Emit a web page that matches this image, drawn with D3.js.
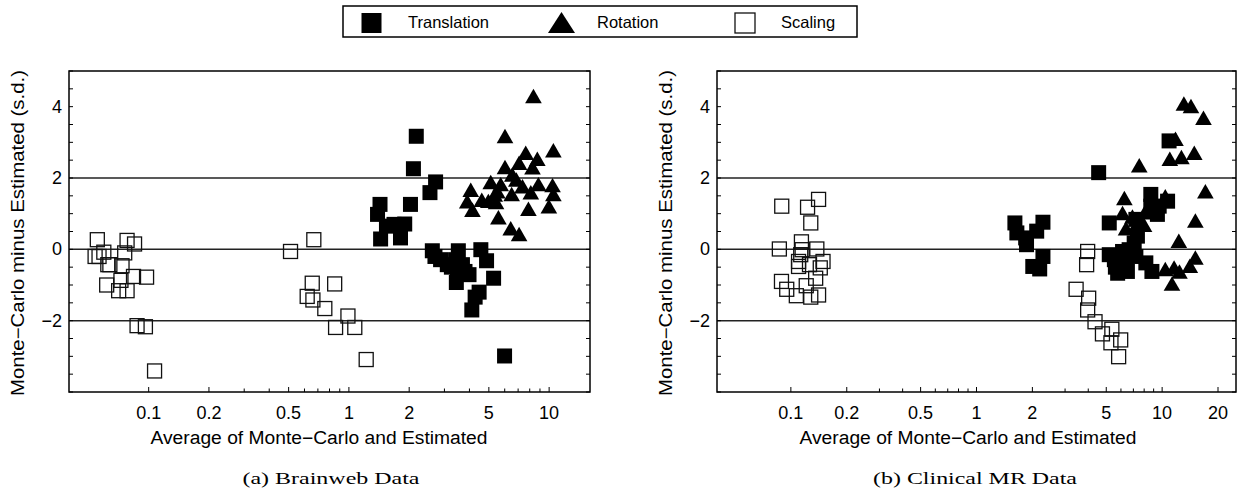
<!DOCTYPE html>
<html><head><meta charset="utf-8">
<script src="https://cdn.jsdelivr.net/npm/d3@7"></script>
<style>
html,body{margin:0;padding:0;background:#fff;}
svg{display:block;font-family:"Liberation Sans",Arial,sans-serif;}
</style></head>
<body>
<svg id="chart" width="1247" height="488"></svg>
<script>
// ---------- data ----------
const seriesNames = ["Translation", "Rotation", "Scaling"];
const yTickValues = [-2, 0, 2, 4];
const yTickLabels = ["\u22122", "0", "2", "4"];
const refLines = [-2, 0, 2];
const xTickLabelsA = [0.1, 0.2, 0.5, 1, 2, 5, 10];
const xTickLabelsB = [0.1, 0.2, 0.5, 1, 2, 5, 10, 20];
const captions = ["(a) Brainweb Data", "(b) Clinical MR Data"];
const xTitle = "Average of Monte\u2212Carlo and Estimated";
const yTitle = "Monte\u2212Carlo minus Estimated  (s.d.)";

// Panel (a) Brainweb: [average, difference]
const brainTranslation = [
  [2.17,3.17],[2.10,2.26],[2.71,1.89],[2.54,1.59],[1.43,1.26],[2.03,1.26],[1.39,0.98],
  [1.68,0.70],[1.90,0.71],[1.54,0.65],[1.44,0.29],[1.81,0.32],
  [2.61,-0.04],[2.69,-0.20],[2.87,-0.29],[3.52,-0.04],[3.10,-0.43],[3.41,-0.29],
  [3.48,-0.57],[3.69,-0.43],[3.98,-0.71],[3.44,-0.93],[4.56,-0.01],[4.87,-0.32],
  [5.28,-0.81],[4.47,-1.20],[4.27,-1.34],[4.11,-1.70],[5.99,-2.99],[3.25,-0.50],[3.80,-0.62]
];
const brainRotation = [
  [8.35,4.26],[6.02,3.14],[10.5,2.74],[7.64,2.67],[8.73,2.50],[7.08,2.39],[6.02,2.27],
  [8.26,2.26],[6.55,2.06],[5.11,1.85],[5.73,1.79],[6.86,1.92],[7.36,1.73],[8.84,1.79],
  [10.4,1.76],[4.06,1.63],[5.51,1.59],[8.10,1.56],[6.50,1.51],[10.5,1.51],[4.61,1.35],
  [4.97,1.32],[5.43,1.29],[3.90,1.31],[4.14,1.07],[7.88,1.10],[9.97,1.17],[5.58,0.86],
  [6.43,0.55],[7.08,0.39],[5.35,1.50]
];
const brainScaling = [
  [0.0554,0.27],[0.054,-0.20],[0.0565,-0.20],[0.0597,-0.08],[0.064,-0.43],[0.0625,-0.43],
  [0.078,0.25],[0.085,0.15],[0.0759,-0.10],[0.0736,-0.46],[0.084,-0.76],[0.0976,-0.78],
  [0.0617,-1.00],[0.0727,-0.87],[0.0708,-1.16],[0.078,-1.16],[0.0875,-2.14],[0.0963,-2.17],
  [0.107,-3.41],[0.511,-0.06],[0.668,0.27],[0.656,-0.95],[0.849,-0.97],[0.619,-1.32],
  [0.661,-1.42],[0.758,-1.66],[0.989,-1.87],[0.858,-2.19],[1.07,-2.19],[1.22,-3.09]
];

// Panel (b) Clinical MR
const clinTranslation = [
  [4.55,2.15],[10.9,3.04],[8.69,1.54],[10.7,1.35],[9.64,1.21],[8.69,1.21],[9.43,0.98],
  [7.22,0.84],[5.19,0.74],[1.61,0.74],[1.65,0.46],[2.28,0.76],[2.11,0.51],[1.84,0.32],
  [1.86,0.13],[2.28,-0.20],[2.01,-0.48],[2.19,-0.55],[7.07,0.18],[6.64,-0.01],[5.19,-0.15],
  [6.12,-0.06],[5.53,-0.29],[6.39,-0.34],[7.22,-0.20],[5.76,-0.67],[6.50,-0.62],[8.17,-0.38],
  [8.81,-0.62],[7.36,0.37],[5.60,-0.50]
];
const clinRotation = [
  [13.1,4.05],[14.3,3.98],[16.7,3.65],[11.8,3.06],[11.0,2.50],[12.7,2.55],[14.9,2.67],
  [7.53,2.32],[17.1,1.59],[6.26,1.40],[10.4,1.45],[6.12,0.98],[8.51,1.21],[15.1,0.77],
  [6.39,0.55],[7.36,0.70],[7.99,0.65],[6.92,0.88],[12.3,0.20],[15.1,-0.27],[14.1,-0.50],
  [10.4,-0.59],[11.6,-0.55],[12.4,-0.66],[11.3,-1.00],[8.2,1.00]
];
const clinScaling = [
  [0.0893,1.21],[0.123,1.18],[0.141,1.40],[0.128,0.74],[0.0867,0.01],[0.114,0.21],
  [0.138,0.01],[0.115,-0.01],[0.113,-0.15],[0.110,-0.34],[0.110,-0.48],[0.149,-0.34],
  [0.144,-0.52],[0.126,-0.43],[0.136,-0.81],[0.089,-0.90],[0.095,-1.12],[0.121,-1.02],
  [0.107,-1.30],[0.128,-1.34],[0.141,-1.28],
  [3.97,-0.06],[3.92,-0.43],[3.44,-1.12],[4.02,-1.37],[3.97,-1.70],[4.35,-2.03],
  [4.77,-2.37],[5.36,-2.24],[5.30,-2.62],[5.98,-2.54],[5.83,-3.01]
];

// ---------- drawing ----------
const svg = d3.select("#chart");
const ink = "#000";

function drawPanel(cfg) {
  const g = svg.append("g");
  const x = d3.scaleLog().domain(cfg.xDomain).range([cfg.left, cfg.right]);
  const y = d3.scaleLinear().domain([-4, 5]).range([cfg.bottom, cfg.top]);

  // reference lines
  g.selectAll("line.ref").data(refLines).enter().append("line")
    .attr("x1", cfg.left).attr("x2", cfg.right)
    .attr("y1", d => y(d)).attr("y2", d => y(d))
    .attr("stroke", "#222").attr("stroke-width", 1.5);

  // markers: scaling (open squares)
  const sq = 14, fsq = 15;
  g.selectAll("rect.sc").data(cfg.scaling).enter().append("rect")
    .attr("x", d => x(d[0]) - sq / 2).attr("y", d => y(d[1]) - sq / 2)
    .attr("width", sq).attr("height", sq)
    .attr("fill", "none").attr("stroke", "#111").attr("stroke-width", 1.3);
  // translation (filled squares)
  g.selectAll("rect.tr").data(cfg.translation).enter().append("rect")
    .attr("x", d => x(d[0]) - fsq / 2).attr("y", d => y(d[1]) - fsq / 2)
    .attr("width", fsq).attr("height", fsq).attr("fill", ink);
  // rotation (triangles)
  const tri = d3.symbol().type(d3.symbolTriangle).size(120);
  g.selectAll("path.ro").data(cfg.rotation).enter().append("path")
    .attr("d", tri)
    .attr("transform", d => `translate(${x(d[0])},${y(d[1]) + 1})`)
    .attr("fill", ink);

  // frame
  g.append("rect").attr("x", cfg.left).attr("y", cfg.top)
    .attr("width", cfg.right - cfg.left).attr("height", cfg.bottom - cfg.top)
    .attr("fill", "none").attr("stroke", ink).attr("stroke-width", 1.5);

  // y ticks inside, both sides
  const yMinor = d3.range(-4, 5.01, 0.5);
  yMinor.forEach(v => {
    g.append("line").attr("x1", cfg.left).attr("x2", cfg.left + 4)
      .attr("y1", y(v)).attr("y2", y(v)).attr("stroke", ink).attr("stroke-width", 1);
    g.append("line").attr("x1", cfg.right).attr("x2", cfg.right - 4)
      .attr("y1", y(v)).attr("y2", y(v)).attr("stroke", ink).attr("stroke-width", 1);
  });
  g.selectAll("text.yt").data(yTickValues).enter().append("text")
    .attr("x", cfg.left - 7).attr("y", d => y(d) + 6)
    .attr("text-anchor", "end").attr("font-size", 18).attr("fill", ink)
    .text((d, i) => yTickLabels[i]);

  // x ticks inside
  const xMinor = [];
  [0.1, 1].forEach(dec => { for (let k = 1; k <= 9; k++) xMinor.push(+(dec * k).toFixed(3)); });
  xMinor.push(10, 20);
  const xd = cfg.xDomain;
  xMinor.filter(v => v >= xd[0] && v <= xd[1]).forEach(v => {
    const big = cfg.xLabels.includes(v);
    g.append("line").attr("x1", x(v)).attr("x2", x(v))
      .attr("y1", cfg.bottom).attr("y2", cfg.bottom - (big ? 5 : 3.5))
      .attr("stroke", ink).attr("stroke-width", 1);
  });
  g.selectAll("text.xt").data(cfg.xLabels).enter().append("text")
    .attr("x", d => x(d)).attr("y", cfg.bottom + 27)
    .attr("text-anchor", "middle").attr("font-size", 18).attr("fill", ink)
    .text(d => String(d));

  // axis titles
  g.append("text").attr("x", cfg.xTitleX).attr("y", cfg.bottom + 52)
    .attr("text-anchor", "middle").attr("font-size", 18).attr("fill", ink)
    .attr("textLength", 337).attr("lengthAdjust", "spacingAndGlyphs")
    .text(xTitle);
  g.append("text")
    .attr("transform", `translate(${cfg.yTitleX},${cfg.yTitleY}) rotate(-90)`)
    .attr("text-anchor", "middle").attr("font-size", 18).attr("fill", ink)
    .attr("textLength", 326).attr("lengthAdjust", "spacingAndGlyphs")
    .text(yTitle);

  // caption
  g.append("text").attr("x", cfg.capX).attr("y", 484)
    .attr("text-anchor", "middle").attr("font-size", 17)
    .attr("font-family", "'Liberation Serif','DejaVu Serif',serif").attr("fill", ink)
    .attr("textLength", cfg.capLen).attr("lengthAdjust", "spacingAndGlyphs")
    .text(cfg.caption);
}

drawPanel({
  left: 69, right: 590, top: 71, bottom: 392, xDomain: [0.04, 16],
  xLabels: xTickLabelsA, translation: brainTranslation, rotation: brainRotation, scaling: brainScaling,
  xTitleX: 319, yTitleX: 24, yTitleY: 233, capX: 331, capLen: 177, caption: captions[0]
});
drawPanel({
  left: 717, right: 1236, top: 71, bottom: 392, xDomain: [0.04, 25],
  xLabels: xTickLabelsB, translation: clinTranslation, rotation: clinRotation, scaling: clinScaling,
  xTitleX: 968, yTitleX: 672, yTitleY: 233, capX: 975, capLen: 204, caption: captions[1]
});

// legend
const lg = svg.append("g");
lg.append("rect").attr("x", 343).attr("y", 6).attr("width", 514).attr("height", 31)
  .attr("fill", "#fff").attr("stroke", ink).attr("stroke-width", 1.5);
const legendItems = [
  {name: seriesNames[0], mx: 371.5, tx: 408, kind: "fsq"},
  {name: seriesNames[1], mx: 561.5, tx: 597, kind: "tri"},
  {name: seriesNames[2], mx: 745, tx: 781, kind: "osq"}
];
legendItems.forEach(it => {
  if (it.kind === "fsq") {
    lg.append("rect").attr("x", it.mx - 10).attr("y", 13).attr("width", 20).attr("height", 20).attr("fill", ink);
  } else if (it.kind === "tri") {
    lg.append("path").attr("d", `M${it.mx - 13.5},33 L${it.mx + 13.5},33 L${it.mx},12 Z`).attr("fill", ink);
  } else {
    lg.append("rect").attr("x", it.mx - 10).attr("y", 13).attr("width", 20).attr("height", 20)
      .attr("fill", "none").attr("stroke", "#111").attr("stroke-width", 1.3);
  }
  lg.append("text").attr("x", it.tx).attr("y", 28).attr("font-size", 16.5).attr("fill", ink).text(it.name);
});
</script>
</body></html>
